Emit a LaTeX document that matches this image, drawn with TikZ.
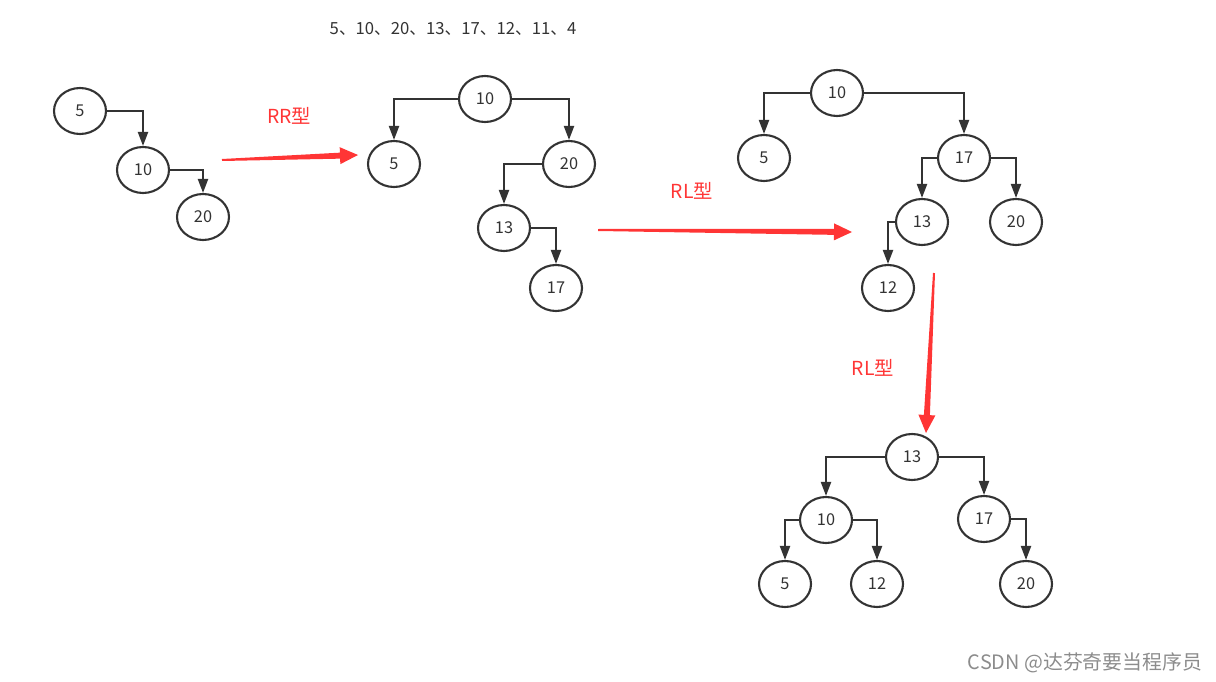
\documentclass[tikz,border=0pt]{standalone}
\usepackage{fontspec}
\setmainfont{Noto Sans CJK SC}
\usetikzlibrary{arrows.meta,calc,shapes.geometric}
\definecolor{edgegray}{HTML}{333333}
\definecolor{arrowred}{HTML}{FF3535}

% tapered red arrow between two points
\newcommand\taperarrow[2]{%
  \coordinate (hb) at ($(#2)!0.36cm!(#1)$);
  \fill[arrowred] ($(#1)!0.02cm!90:(#2)$) -- ($(hb)!0.06cm!90:(#2)$)
    -- ($(hb)!0.17cm!90:(#2)$) -- (#2) -- ($(hb)!0.17cm!-90:(#2)$)
    -- ($(hb)!0.06cm!-90:(#2)$) -- ($(#1)!0.02cm!-90:(#2)$) -- cycle;}

\begin{document}
\begin{tikzpicture}[
  x=0.02cm, y=-0.02cm,
  key/.style={draw=edgegray, ellipse, line width=0.042cm, minimum width=1.04cm,
    minimum height=0.92cm, inner sep=0pt, font=\fontsize{9.3}{10}\selectfont, text=edgegray},
  edge/.style={-{Triangle[width=0.2cm,length=0.28cm]}, line width=0.042cm, draw=edgegray},
  tag/.style={font=\fontsize{11}{12}\selectfont, text=arrowred},
  seq/.style={font=\fontsize{9.5}{10}\selectfont, text=edgegray}]
  \useasboundingbox (0,0) rectangle (1216,682);
  \node[seq] (order) at (453,29) {5、10、20、13、17、12、11、4};
  % First tree: 5, 10, 20 in a row
  \node[key] (a5) at (80,111) {5};
  \node[key] (a10) at (143,170) {10};
  \node[key] (a20) at (203,217) {20};
  \draw[edge] (a5.east) -| (a10.north);
  \draw[edge] (a10.east) -| (a20.north);
  % RR rotation
  \coordinate (rrs) at (222,160);
  \coordinate (rre) at (358,155);
  \taperarrow{rrs}{rre}
  \node[tag] (rr) at (289,116) {RR型};
  % Second tree
  \node[key] (b10) at (485,99) {10};
  \node[key] (b5) at (394,164) {5};
  \node[key] (b20) at (569,164) {20};
  \node[key] (b13) at (504,228) {13};
  \node[key] (b17) at (556,288) {17};
  \draw[edge] (b10.west) -| (b5.north);
  \draw[edge] (b10.east) -| (b20.north);
  \draw[edge] (b20.west) -| (b13.north);
  \draw[edge] (b13.east) -| (b17.north);
  % RL rotation
  \coordinate (rls) at (598,230);
  \coordinate (rle) at (852,232);
  \taperarrow{rls}{rle}
  \node[tag] (rl) at (692,191) {RL型};
  % Third tree
  \node[key] (c10) at (837,93) {10};
  \node[key] (c5) at (764,158) {5};
  \node[key] (c17) at (964,158) {17};
  \node[key] (c13) at (922,222) {13};
  \node[key] (c20) at (1016,222) {20};
  \node[key] (c12) at (888,288) {12};
  \draw[edge] (c10.west) -| (c5.north);
  \draw[edge] (c10.east) -| (c17.north);
  \draw[edge] (c17.west) -| (c13.north);
  \draw[edge] (c17.east) -| (c20.north);
  \draw[edge] (c13.west) -| (c12.north);
  % second RL rotation
  \coordinate (rlds) at (934,273);
  \coordinate (rlde) at (926,433);
  \taperarrow{rlds}{rlde}
  \node[tag] (rld) at (873,368) {RL型};
  % Fourth tree
  \node[key] (d13) at (912,457) {13};
  \node[key] (d10) at (826,520) {10};
  \node[key] (d17) at (984,519) {17};
  \node[key] (d5) at (785,584) {5};
  \node[key] (d12) at (877,584) {12};
  \node[key] (d20) at (1026,584) {20};
  \draw[edge] (d13.west) -| (d10.north);
  \draw[edge] (d13.east) -| (d17.north);
  \draw[edge] (d10.west) -| (d5.north);
  \draw[edge] (d10.east) -| (d12.north);
  \draw[edge] (d17.east) -| (d20.north);
  \node[font=\fontsize{11.3}{12}\selectfont, text=black!45] (mark) at (1085,663) {CSDN @达芬奇要当程序员};
\end{tikzpicture}
\end{document}
